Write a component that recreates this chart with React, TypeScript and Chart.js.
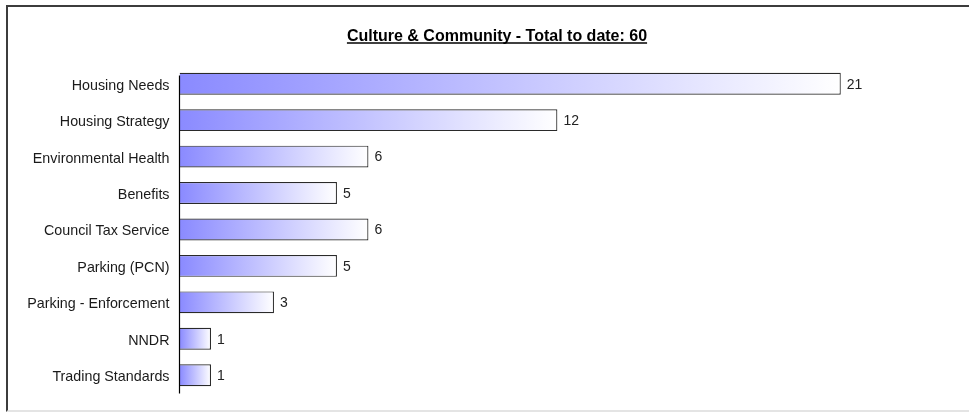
import React, { useEffect, useRef } from "react";
import { Chart, registerables } from "chart.js";

Chart.register(...registerables);

const categories = [
  "Housing Needs",
  "Housing Strategy",
  "Environmental Health",
  "Benefits",
  "Council Tax Service",
  "Parking (PCN)",
  "Parking - Enforcement",
  "NNDR",
  "Trading Standards",
];
const values = [21, 12, 6, 5, 6, 5, 3, 1, 1];
const titleText = "Culture & Community - Total to date: 60";
const xMax = 24;

const FONT = "'Liberation Sans', Arial, Helvetica, sans-serif";

export default function App() {
  const canvasRef = useRef<HTMLCanvasElement | null>(null);

  useEffect(() => {
    document.body.style.margin = "0";
    const canvas = canvasRef.current;
    if (!canvas) return;

    const titlePlugin = {
      id: "underlinedTitle",
      afterDraw(chart: any) {
        const ctx = chart.ctx;
        ctx.save();
        ctx.font = `bold 16px ${FONT}`;
        ctx.fillStyle = "#000";
        ctx.textAlign = "center";
        ctx.textBaseline = "alphabetic";
        const cx = 497;
        const by = 40.5;
        ctx.fillText(titleText, cx, by);
        const w = ctx.measureText(titleText).width;
        ctx.strokeStyle = "#000";
        ctx.lineWidth = 1.3;
        ctx.beginPath();
        ctx.moveTo(cx - w / 2, by + 2.5);
        ctx.lineTo(cx + w / 2, by + 2.5);
        ctx.stroke();
        ctx.restore();
      },
    };

    const axisLinePlugin = {
      id: "axisLine",
      afterDatasetsDraw(chart: any) {
        const ctx = chart.ctx;
        const a = chart.chartArea;
        ctx.save();
        ctx.strokeStyle = "#000";
        ctx.lineWidth = 1.2;
        ctx.beginPath();
        ctx.moveTo(a.left, a.top + 10);
        ctx.lineTo(a.left, a.bottom);
        ctx.stroke();
        ctx.restore();
      },
    };

    const valueLabelPlugin = {
      id: "valueLabels",
      afterDatasetsDraw(chart: any) {
        const ctx = chart.ctx;
        const meta = chart.getDatasetMeta(0);
        ctx.save();
        ctx.font = `14px ${FONT}`;
        ctx.fillStyle = "#222";
        ctx.textAlign = "left";
        ctx.textBaseline = "middle";
        meta.data.forEach((bar: any, i: number) => {
          ctx.fillText(String(values[i]), bar.x + 6, bar.y + 1);
        });
        ctx.restore();
      },
    };

    const chart = new Chart(canvas, {
      type: "bar",
      data: {
        labels: categories,
        datasets: [
          {
            data: values,
            backgroundColor: (c: any) => {
              const ch = c.chart;
              const xs = ch.scales && ch.scales.x;
              if (!xs || c.type !== "data") return "#8c8cff";
              const x0 = xs.getPixelForValue(0);
              const x1 = xs.getPixelForValue(c.raw);
              if (!isFinite(x0) || !isFinite(x1) || x1 <= x0) return "#8c8cff";
              const g = ch.ctx.createLinearGradient(x0, 0, x1, 0);
              g.addColorStop(0, "#8a8aff");
              g.addColorStop(0.5, "#c4c4ff");
              g.addColorStop(1, "#ffffff");
              return g;
            },
            borderColor: "#2a2a2a",
            borderWidth: 1.2,
            borderSkipped: "start",
            categoryPercentage: 1,
            barPercentage: 0.6,
          },
        ],
      },
      options: {
        indexAxis: "y",
        animation: false,
        responsive: true,
        maintainAspectRatio: false,
        layout: { padding: { top: 65.5, bottom: 15.3, left: 0, right: 969 - (179.5 + xMax * 31.49) } },
        plugins: {
          legend: { display: false },
          title: { display: false },
          tooltip: { enabled: false },
        },
        scales: {
          x: {
            display: false,
            min: 0,
            max: xMax,
          },
          y: {
            grid: { display: false, drawTicks: false },
            border: { display: false },
            ticks: {
              color: "#1a1a1a",
              font: { size: 14.3, family: FONT },
              padding: 10,
              labelOffset: 2,
            },
            afterFit: (scale: any) => {
              scale.width = 179.5;
            },
          },
        },
      },
      plugins: [titlePlugin, axisLinePlugin, valueLabelPlugin],
    } as any);

    return () => {
      chart.destroy();
    };
  }, []);

  return (
    <div
      style={{
        position: "relative",
        width: 969,
        height: 412,
        overflow: "hidden",
        background: "#fff",
      }}
    >
      <div
        style={{
          position: "absolute",
          left: 6,
          top: 5,
          width: 1000,
          height: 407,
          boxSizing: "border-box",
          borderTop: "2px solid #3c3c3c",
          borderLeft: "2px solid #3c3c3c",
          borderBottom: "2px solid #e4e4e4",
        }}
      />
      <div style={{ position: "absolute", left: 0, top: 0, width: 969, height: 412 }}>
        <canvas ref={canvasRef} />
      </div>
    </div>
  );
}
